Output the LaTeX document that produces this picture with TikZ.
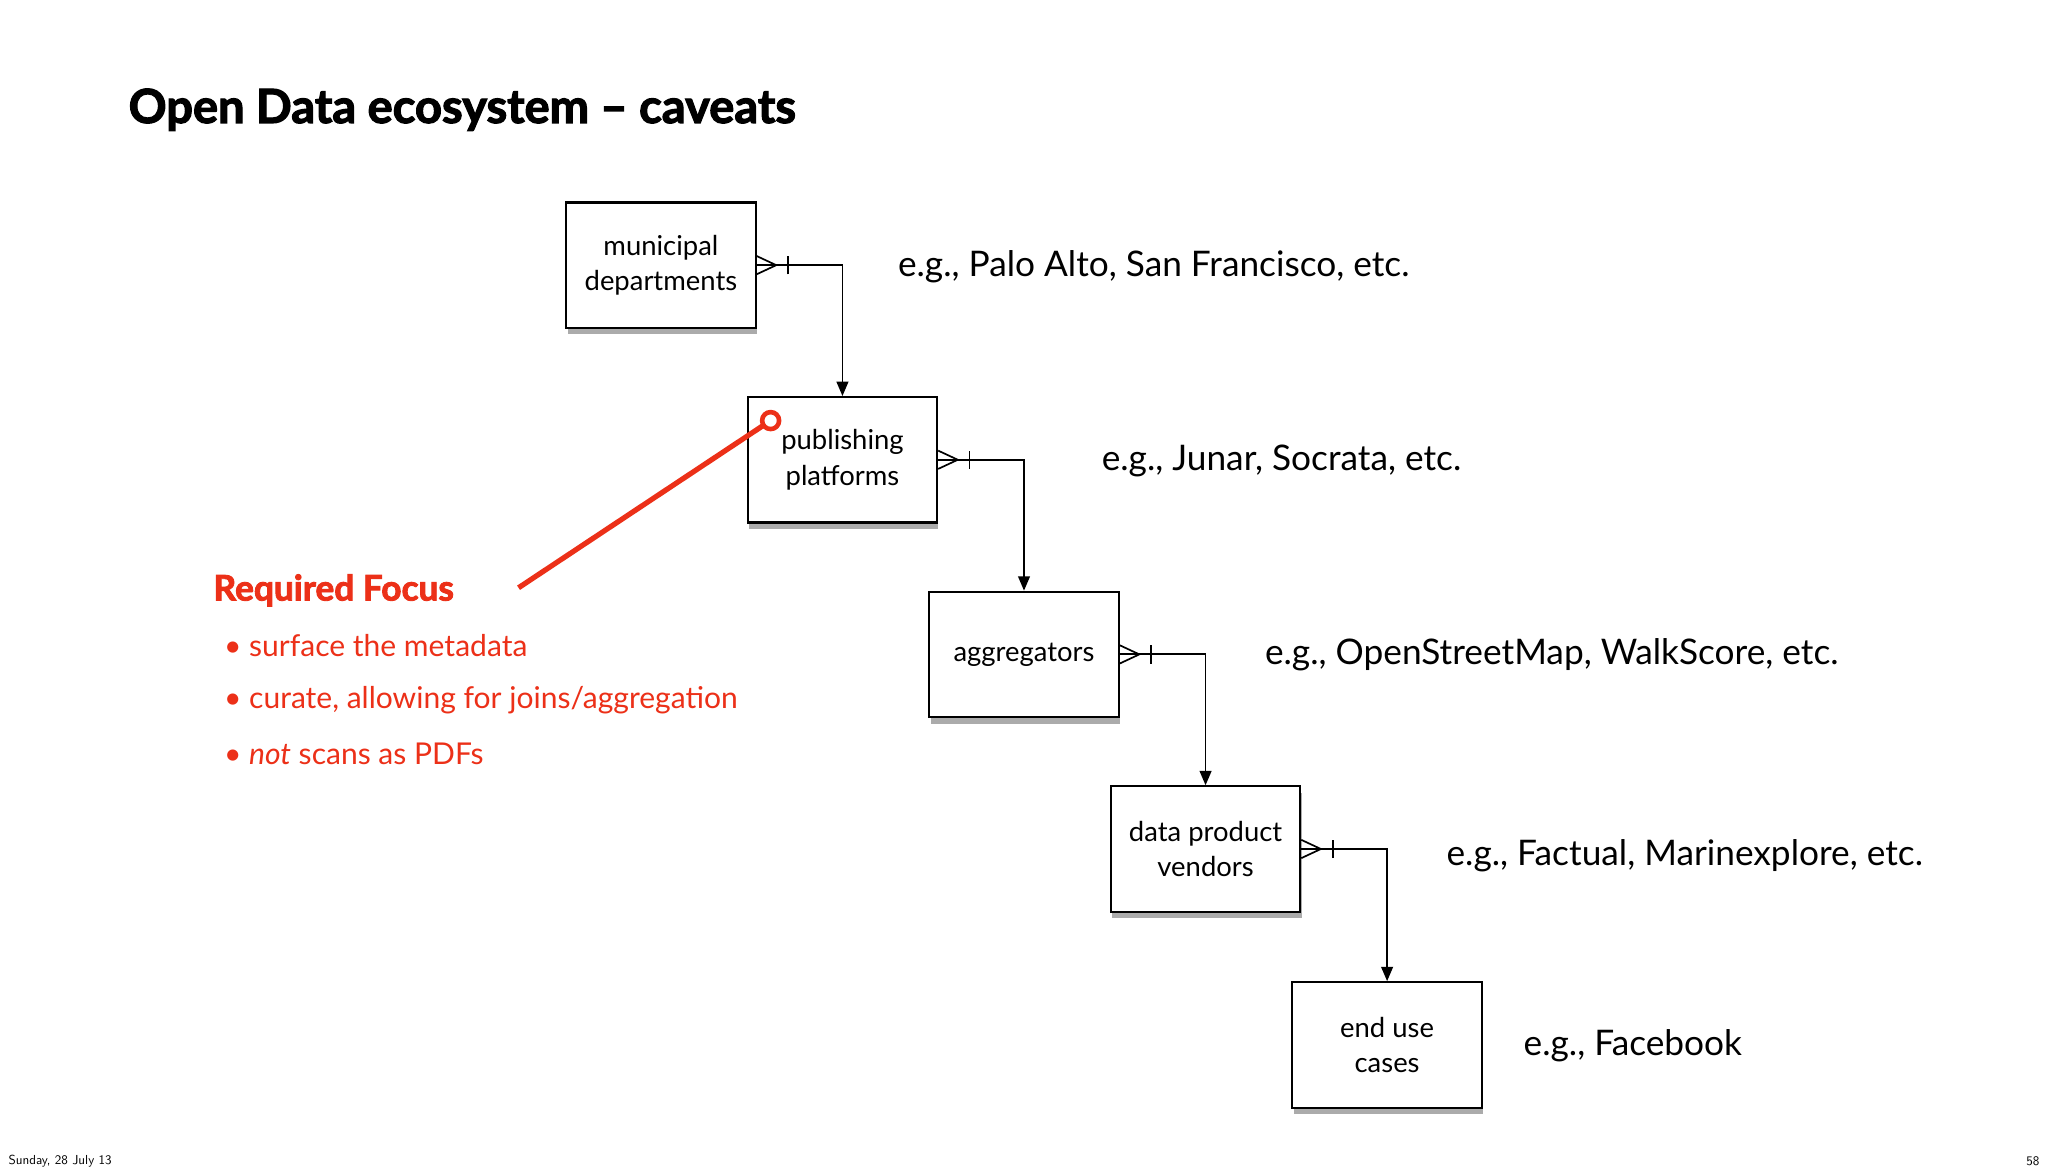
\documentclass[tikz,border=0pt]{standalone}
\usepackage{fontspec}
\setmainfont{Lato}
\newfontfamily\heavyfont[FakeBold=2.5]{Lato}
\usetikzlibrary{arrows.meta}
\definecolor{redc}{RGB}{236,48,24}
\tikzset{
  ent/.style={draw,line width=1.6pt,fill=white,minimum width=145pt,minimum height=96pt,align=center,font=\fontsize{21}{27}\selectfont,inner sep=0pt,
    preaction={fill=black!55,draw=none,transform canvas={xshift=1pt,yshift=-5pt},opacity=0.6}},
  conn/.style={line width=1.4pt,-{Triangle[length=11pt,width=9pt]}},
  eg/.style={anchor=west,font=\fontsize{27}{30}\selectfont},
  rt/.style={anchor=west,text=redc,font=\fontsize{23}{26}\selectfont}
}
\begin{document}
\begin{tikzpicture}[x=1pt,y=-1pt]
\useasboundingbox[fill=white] (0,0) rectangle (1568,898);
\node[anchor=west,font=\heavyfont\bfseries\fontsize{36}{40}\selectfont] (title) at (95,84) {Open Data ecosystem – caveats};
\node[ent] (a) at (506,203) {municipal\\departments};
\node[ent] (b) at (645,352) {publishing\\platforms};
\node[ent] (c) at (784,501) {aggregators};
\node[ent] (d) at (923,650) {data product\\vendors};
\node[ent] (e) at (1062,800) {end use\\cases};
\foreach \s/\t in {a/b,b/c,c/d,d/e}{
  \draw[conn] (\s.east) -| (\t.north);
  \draw[line width=1.3pt] ([yshift=-7pt]\s.east) -- ([xshift=15pt]\s.east) -- ([yshift=7pt]\s.east);
  \draw[line width=1.3pt] ([xshift=24pt,yshift=-7pt]\s.east) -- ([xshift=24pt,yshift=7pt]\s.east);
}
\node[eg] (la) at (684,204) {e.g., Palo Alto, San Francisco, etc.};
\node[eg] (lb) at (840,353) {e.g., Junar, Socrata, etc.};
\node[eg] (lc) at (965,501) {e.g., OpenStreetMap, WalkScore, etc.};
\node[eg] (ld) at (1104,655) {e.g., Factual, Marinexplore, etc.};
\node[eg] (le) at (1163,801) {e.g., Facebook};
\node[anchor=west,text=redc,font=\heavyfont\bfseries\fontsize{27}{30}\selectfont] (rf) at (160,452) {Required Focus};
\node[rt] (r1) at (168,494) {• surface the metadata};
\node[rt] (r2) at (168,536) {• curate, allowing for joins/aggregation};
\node[rt] (r3) at (168,577) {• \textit{not} scans as PDFs};
\coordinate (p) at (590,322);
\coordinate (q) at (397,450);
\draw[redc,line width=4pt] (q) -- (p);
\draw[redc,line width=3.5pt,fill=white] (p) circle (6.5pt);
\node[anchor=west,font=\sffamily\fontsize{10}{12}\selectfont] (f1) at (3,889) {Sunday, 28 July 13};
\node[anchor=east,font=\sffamily\fontsize{10}{12}\selectfont] (f2) at (1565,889) {58};
\end{tikzpicture}
\end{document}
